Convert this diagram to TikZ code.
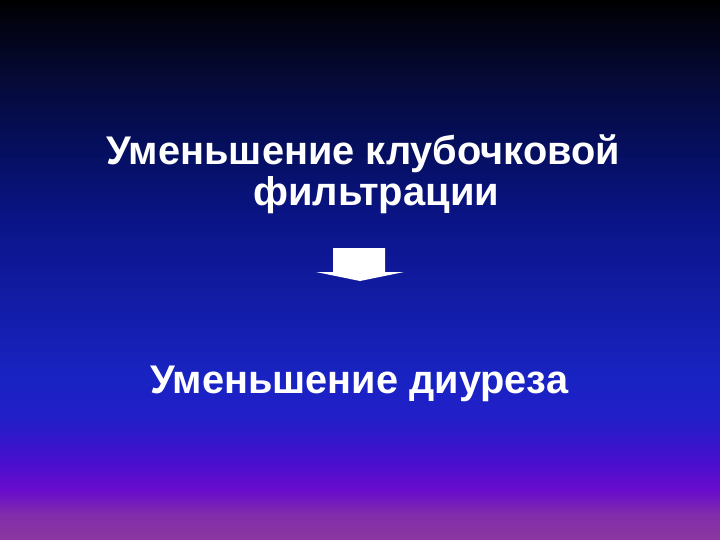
\documentclass[tikz,border=0pt]{standalone}
\usepackage{fontspec}
\setmainfont{Liberation Sans}
\usepackage{graphicx}
\definecolor{g0}{RGB}{140,55,160}
\definecolor{g1}{RGB}{130,45,170}
\definecolor{g2}{RGB}{105,12,205}
\definecolor{g3}{RGB}{70,15,205}
\definecolor{g4}{RGB}{35,30,200}
\definecolor{g5}{RGB}{25,35,195}
\definecolor{g6}{RGB}{18,28,165}
\definecolor{g7}{RGB}{10,20,135}
\definecolor{g8}{RGB}{5,15,95}
\definecolor{g9}{RGB}{5,10,55}
\definecolor{g10}{RGB}{2,2,15}
\definecolor{g11}{RGB}{0,0,0}
\pgfdeclareverticalshading{slidebg}{100bp}{color(0bp)=(g0); color(25bp)=(g0); color(27.31bp)=(g1); color(29.63bp)=(g2); color(32.41bp)=(g3); color(36.11bp)=(g4); color(39.81bp)=(g5); color(47.22bp)=(g6); color(54.63bp)=(g7); color(61.11bp)=(g8); color(67.59bp)=(g9); color(73.15bp)=(g10); color(75bp)=(g11); color(100bp)=(g11)}
\tikzset{
  slidetext/.style={anchor=base west, inner sep=0pt, text=white, font=\fontsize{40}{40}\selectfont\bfseries},
  blockarrow/.style={fill=white, draw=none}
}
\begin{document}
\begin{tikzpicture}[x=1pt,y=-1pt]
\useasboundingbox (0,0) rectangle (720,540);
\shade[shading=slidebg] (0,0) rectangle (720,540);
\node[slidetext] (l1) at (106,165) {\resizebox{514pt}{\height}{Уменьшение клубочковой}};
\node[slidetext] (l2) at (253,206) {\resizebox{246pt}{\height}{фильтрации}};
\node[slidetext] (l3) at (150,393) {\resizebox{418pt}{\height}{Уменьшение диуреза}};
\path[blockarrow] (333,248) -- (385,248) -- (385,272) -- (404,272) -- (360,281) -- (316,272) -- (333,272) -- cycle;
\end{tikzpicture}
\end{document}
